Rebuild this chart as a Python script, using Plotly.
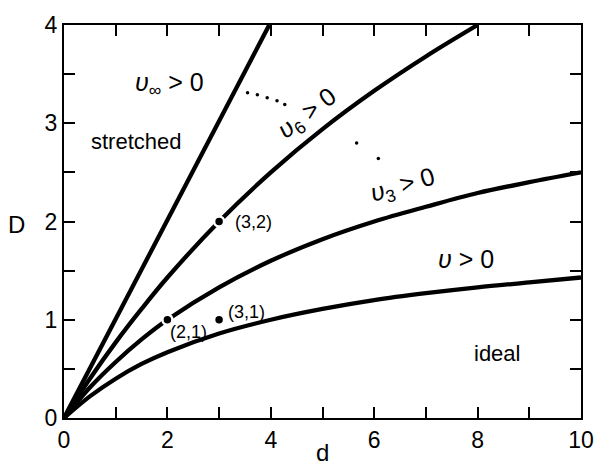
import plotly.graph_objects as go

# Boundary curves D(d) above which each interaction becomes relevant
d_grid = [0, 0.5, 1, 1.5, 2, 3, 4, 5, 6, 7, 8, 9, 10]
D_v2 = [0, 0.22, 0.40, 0.55, 0.67, 0.86, 1.00, 1.11, 1.20, 1.27, 1.33, 1.38, 1.43]
D_v3 = [0, 0.31, 0.57, 0.80, 1.00, 1.33, 1.60, 1.82, 2.00, 2.15, 2.29, 2.40, 2.50]
d_v6 = [0, 0.5, 1, 1.5, 2, 3, 4, 5, 6, 7, 8]
D_v6 = [0, 0.40, 0.77, 1.11, 1.43, 2.00, 2.50, 2.94, 3.33, 3.68, 4.00]
d_vinf = [0, 3.97]
D_vinf = [0, 4]

# Special (d, D) points
pt_d = [2, 3, 3]
pt_D = [1, 2, 1]
pt_labels = ["(2,1)", "(3,2)", "(3,1)"]

# Dotted guide between the v6 and v3 regions
dot_d = [3.55, 3.74, 3.93, 4.12, 4.27, 5.66, 6.08]
dot_D = [3.31, 3.29, 3.26, 3.23, 3.19, 2.80, 2.64]

FONT = "Liberation Sans"
LW = 4.3

fig = go.Figure()
for xs, ys in [(d_grid, D_v2), (d_grid, D_v3), (d_v6, D_v6), (d_vinf, D_vinf)]:
    fig.add_trace(go.Scatter(x=xs, y=ys, mode="lines", line=dict(color="black", width=LW, shape="spline"),
                             hoverinfo="skip", showlegend=False))

fig.add_trace(go.Scatter(x=dot_d, y=dot_D, mode="markers",
                         marker=dict(color="black", size=3.5), showlegend=False))

fig.add_trace(go.Scatter(x=pt_d, y=pt_D, mode="markers",
                         marker=dict(color="black", size=10, line=dict(color="white", width=2.5)),
                         showlegend=False, cliponaxis=False))

ann = []
# point labels
offsets = {"(2,1)": (21, -12), "(3,2)": (34, 0), "(3,1)": (27, 8)}
for x, y, t in zip(pt_d, pt_D, pt_labels):
    dx, dy = offsets[t]
    ann.append(dict(x=x, y=y, text=t, showarrow=False, xshift=dx, yshift=dy,
                    font=dict(family=FONT, size=18, color="black")))

region_txt = [
    (2.05, 3.40, "<i>ʋ</i><sub>∞</sub> > 0", 0, 25),
    (1.41, 2.81, "stretched", 0, 22),
    (4.72, 3.09, "<i>ʋ</i><sub>6</sub> > 0", -37, 25),
    (6.55, 2.36, "<i>ʋ</i><sub>3</sub> > 0", -16, 25),
    (7.78, 1.62, "<i>ʋ</i> > 0", 0, 25),
    (8.37, 0.66, "ideal", 0, 22),
]
for x, y, t, ang, sz in region_txt:
    ann.append(dict(x=x, y=y, text=t, showarrow=False, textangle=ang,
                    font=dict(family=FONT, size=sz, color="black")))

# axis titles
ann.append(dict(x=5, y=0, xref="x", yref="paper", text="d", showarrow=False, yanchor="top", yshift=-19,
                font=dict(family=FONT, size=24, color="black")))
ann.append(dict(x=-0.091, y=1.97, xref="paper", yref="y", text="D", showarrow=False,
                xanchor="center", font=dict(family=FONT, size=24, color="black")))

axis_common = dict(showline=True, linewidth=2, linecolor="black", mirror="allticks", ticks="inside",
                   ticklen=11, tickwidth=1.6, tickcolor="black", showgrid=False, zeroline=False,
                   tickfont=dict(family=FONT, size=23, color="black"))

fig.update_layout(
    width=606, height=467,
    margin=dict(l=64, r=14, t=20, b=49),
    plot_bgcolor="white", paper_bgcolor="white",
    annotations=ann,
    xaxis=dict(range=[0, 10], dtick=2, tick0=0,
               minor=dict(dtick=1, ticks="inside", ticklen=11, tickwidth=1.6, tickcolor="black"),
               **axis_common),
    yaxis=dict(range=[0, 4], dtick=1, tick0=0,
               minor=dict(dtick=0.5, ticks="inside", ticklen=11, tickwidth=1.6, tickcolor="black"),
               **axis_common),
)

fig.write_html("out.html")
